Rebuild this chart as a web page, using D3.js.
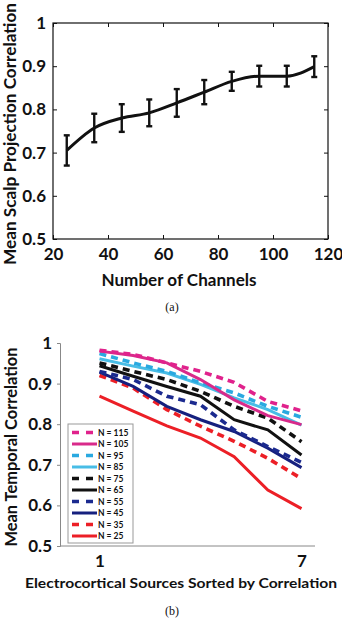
<!DOCTYPE html>
<html>
<head>
<meta charset="utf-8">
<script src="https://cdn.jsdelivr.net/npm/d3@7"></script>
<style>
  body { margin: 0; background: #fff; }
  svg { display: block; }
  text { font-family: Lato, "Open Sans", sans-serif; font-weight: bold; fill: #111; }
  .cap { font-family: "Liberation Serif", serif; font-weight: normal; }
</style>
</head>
<body>
<svg id="fig" width="342" height="618"></svg>
<script>
// ---- panel (a): scalp projection correlation vs. channels
const channels = [25, 35, 45, 55, 65, 75, 85, 95, 105, 115];
const scalpMean = [0.705, 0.757, 0.780, 0.792, 0.815, 0.840, 0.865, 0.877, 0.877, 0.899];
const scalpErr = [0.035, 0.033, 0.032, 0.031, 0.032, 0.028, 0.022, 0.024, 0.024, 0.024];
const aXTicks = [20, 40, 60, 80, 100, 120];
const aYTicks = [0.5, 0.6, 0.7, 0.8, 0.9, 1];

// ---- panel (b): temporal correlation per sorted source
const sources = [1, 2, 3, 4, 5, 6, 7];
const seriesNames = ["N = 115", "N = 105", "N = 95", "N = 85", "N = 75", "N = 65", "N = 55", "N = 45", "N = 35", "N = 25"];
const seriesColors = ["#e0228c", "#d92a8a", "#2aa9e0", "#48bde6", "#111111", "#111111", "#1b2a8f", "#16207e", "#ec1f26", "#ec1f26"];
const seriesDashed = [true, false, true, false, true, false, true, false, true, false];
const n115 = [0.982, 0.972, 0.951, 0.930, 0.903, 0.856, 0.833];
const n105 = [0.980, 0.969, 0.951, 0.910, 0.860, 0.821, 0.799];
const n95 = [0.974, 0.951, 0.930, 0.902, 0.877, 0.844, 0.817];
const n85 = [0.961, 0.943, 0.926, 0.898, 0.865, 0.836, 0.798];
const n75 = [0.951, 0.930, 0.910, 0.881, 0.844, 0.815, 0.757];
const n65 = [0.944, 0.918, 0.893, 0.869, 0.811, 0.786, 0.724];
const n55 = [0.930, 0.910, 0.869, 0.848, 0.786, 0.745, 0.706];
const n45 = [0.928, 0.893, 0.844, 0.811, 0.782, 0.741, 0.693];
const n35 = [0.920, 0.889, 0.836, 0.795, 0.758, 0.716, 0.666];
const n25 = [0.869, 0.832, 0.796, 0.766, 0.720, 0.638, 0.592];
const bValues = [n115, n105, n95, n85, n75, n65, n55, n45, n35, n25];
const bYTicks = [0.5, 0.6, 0.7, 0.8, 0.9, 1];
const bXTicks = [1, 7];

const svg = d3.select("#fig");
const fmtY = d => d === 1 ? "1" : d3.format(".1f")(d);

// ================= panel (a) =================
const a = { left: 53, right: 328, top: 23, bottom: 239 };
const ax = d3.scaleLinear().domain([20, 120]).range([a.left, a.right]);
const ay = d3.scaleLinear().domain([0.5, 1]).range([a.bottom, a.top]);
const ga = svg.append("g");

ga.append("rect")
  .attr("x", a.left).attr("y", a.top)
  .attr("width", a.right - a.left).attr("height", a.bottom - a.top)
  .attr("fill", "none").attr("stroke", "#111").attr("stroke-width", 1.2);

// inward ticks on all four sides, labels on left/bottom
ga.append("g").attr("transform", `translate(0,${a.bottom})`)
  .call(d3.axisBottom(ax).tickValues(aXTicks).tickSize(-4).tickPadding(9).tickFormat(d3.format("d")))
  .call(g => { g.select(".domain").remove(); g.selectAll("text").attr("font-size", 17).attr("fill", "#111"); g.selectAll("line").attr("stroke", "#111"); });
ga.append("g").attr("transform", `translate(0,${a.top})`)
  .call(d3.axisTop(ax).tickValues(aXTicks).tickSize(-4).tickFormat(""))
  .call(g => { g.select(".domain").remove(); g.selectAll("line").attr("stroke", "#111"); });
ga.append("g").attr("transform", `translate(${a.left},0)`)
  .call(d3.axisLeft(ay).tickValues(aYTicks).tickSize(-4).tickPadding(7).tickFormat(fmtY))
  .call(g => { g.select(".domain").remove(); g.selectAll("text").attr("font-size", 17).attr("fill", "#111"); g.selectAll("line").attr("stroke", "#111"); });
ga.append("g").attr("transform", `translate(${a.right},0)`)
  .call(d3.axisRight(ay).tickValues(aYTicks).tickSize(-4).tickFormat(""))
  .call(g => { g.select(".domain").remove(); g.selectAll("line").attr("stroke", "#111"); });

const aPts = channels.map((c, i) => ({ x: c, y: scalpMean[i], e: scalpErr[i] }));
ga.append("path").datum(aPts)
  .attr("fill", "none").attr("stroke", "#111").attr("stroke-width", 3)
  .attr("d", d3.line().x(d => ax(d.x)).y(d => ay(d.y)).curve(d3.curveMonotoneX));

const eb = ga.selectAll(".eb").data(aPts).join("g").attr("class", "eb")
  .attr("stroke", "#111").attr("stroke-width", 2.4);
eb.append("line").attr("x1", d => ax(d.x)).attr("x2", d => ax(d.x))
  .attr("y1", d => ay(d.y - d.e)).attr("y2", d => ay(d.y + d.e));
eb.append("line").attr("x1", d => ax(d.x) - 3).attr("x2", d => ax(d.x) + 3)
  .attr("y1", d => ay(d.y + d.e)).attr("y2", d => ay(d.y + d.e));
eb.append("line").attr("x1", d => ax(d.x) - 3).attr("x2", d => ax(d.x) + 3)
  .attr("y1", d => ay(d.y - d.e)).attr("y2", d => ay(d.y - d.e));

ga.append("text").attr("x", 179).attr("y", 286)
  .attr("text-anchor", "middle").attr("font-size", 17)
  .attr("textLength", 155).attr("lengthAdjust", "spacingAndGlyphs").text("Number of Channels");
ga.append("text").attr("transform", `translate(16,134) rotate(-90)`)
  .attr("text-anchor", "middle").attr("font-size", 17)
  .attr("textLength", 262).attr("lengthAdjust", "spacingAndGlyphs").text("Mean Scalp Projection Correlation");
ga.append("text").attr("class", "cap").attr("x", 172).attr("y", 311)
  .attr("text-anchor", "middle").attr("font-size", 12).text("(a)");

// ================= panel (b) =================
const b = { left: 60, right: 315, top: 343, bottom: 546 };
const bx = d3.scaleLinear().domain([1, 7]).range([99.5, 301.5]);
const by = d3.scaleLinear().domain([0.5, 1]).range([b.bottom, b.top]);
const gb = svg.append("g");

gb.append("line").attr("x1", b.left).attr("x2", b.right)
  .attr("y1", b.bottom).attr("y2", b.bottom).attr("stroke", "#888").attr("stroke-width", 1);
gb.append("g").attr("transform", `translate(${b.left},0)`)
  .call(d3.axisLeft(by).tickValues(bYTicks).tickSize(3).tickPadding(5).tickFormat(fmtY))
  .call(g => { g.select(".domain").attr("stroke", "#888"); g.selectAll("line").attr("stroke", "#888"); g.selectAll("text").attr("font-size", 17).attr("fill", "#111"); });
gb.append("g").attr("transform", `translate(0,${b.bottom})`)
  .call(d3.axisBottom(bx).tickValues(bXTicks).tickSize(0).tickPadding(9).tickFormat(d3.format("d")))
  .call(g => { g.select(".domain").remove(); g.selectAll("text").attr("font-size", 17).attr("fill", "#111"); });

const bLine = d3.line().x((d, i) => bx(sources[i])).y(d => by(d));
// draw from the bottom series up so the high-N lines sit on top
const order = d3.range(bValues.length).reverse();
gb.selectAll(".ser").data(order).join("path").attr("class", "ser")
  .attr("fill", "none")
  .attr("stroke", k => seriesColors[k])
  .attr("stroke-width", k => seriesDashed[k] ? 3.6 : 3)
  .attr("stroke-dasharray", k => seriesDashed[k] ? "7,5" : null)
  .attr("d", k => bLine(bValues[k]));

// legend
const lg = gb.append("g").attr("transform", "translate(68,424)");
lg.append("rect").attr("width", 65).attr("height", 119)
  .attr("fill", "#fff").attr("stroke", "#999").attr("stroke-width", 1);
const li = lg.selectAll(".li").data(seriesNames).join("g").attr("class", "li")
  .attr("transform", (d, i) => `translate(0,${8.5 + i * 11.5})`);
li.append("line").attr("x1", 4).attr("x2", 29)
  .attr("stroke", (d, i) => seriesColors[i])
  .attr("stroke-width", (d, i) => seriesDashed[i] ? 3.4 : 3)
  .attr("stroke-dasharray", (d, i) => seriesDashed[i] ? "7,7" : null);
li.append("text").attr("x", 30).attr("y", 3).attr("font-size", 8.5).text(d => d);

gb.append("text").attr("x", 181).attr("y", 588)
  .attr("text-anchor", "middle").attr("font-size", 14)
  .attr("textLength", 312).attr("lengthAdjust", "spacingAndGlyphs").text("Electrocortical Sources Sorted by Correlation");
gb.append("text").attr("transform", `translate(17,447) rotate(-90)`)
  .attr("text-anchor", "middle").attr("font-size", 17)
  .attr("textLength", 199).attr("lengthAdjust", "spacingAndGlyphs").text("Mean Temporal Correlation");
gb.append("text").attr("class", "cap").attr("x", 172).attr("y", 615)
  .attr("text-anchor", "middle").attr("font-size", 12).text("(b)");
</script>
</body>
</html>
